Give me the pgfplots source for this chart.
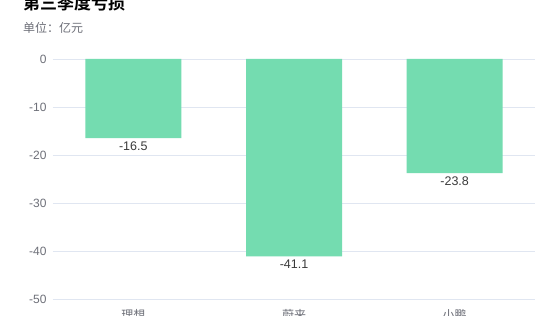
\documentclass[border=0pt]{standalone}
\usepackage{pgfplots}
\pgfplotsset{compat=1.18}
\usepackage{fontspec}
\setmainfont{Liberation Sans}
\newfontfamily\cjk{Noto Sans CJK SC}
\newfontfamily\cjkbold{Noto Sans CJK SC Bold}
\definecolor{barc}{HTML}{74DCB0}
\definecolor{gridc}{HTML}{E0E6F1}
\definecolor{axc}{HTML}{6E7079}
\definecolor{valc}{HTML}{3A3A3A}
\begin{document}
\begin{tikzpicture}[x=1pt,y=1pt]
\clip (0,0) rectangle (560,316);
\fill[white] (0,0) rectangle (560,316);
\node[anchor=west,inner sep=0pt,text=black] at (23,313) {\cjkbold\fontsize{17}{20}\selectfont 第三季度亏损};
\node[anchor=west,inner sep=0pt,text=axc] at (23,288) {\cjk\fontsize{12}{14}\selectfont 单位：亿元};
\begin{axis}[
  at={(53pt,17pt)}, anchor=south west,
  width=482pt, height=240pt, scale only axis,
  xmin=-0.5, xmax=2.5, ymin=-50, ymax=0,
  ybar, bar width=96pt,
  axis line style={draw=none},
  tick style={draw=none},
  ymajorgrids, grid style={gridc, line width=0.8pt},
  ytick={-50,-40,-30,-20,-10,0},
  xtick={0,1,2},
  xticklabels={理想,蔚来,小鹏},
  /pgf/number format/assume math mode=true,
  yticklabel style={font=\fontsize{12}{14}\selectfont, text=axc, xshift=-3pt},
  xticklabel style={font=\cjk\fontsize{12}{14}\selectfont, text=axc, yshift=-3pt},
  point meta=explicit symbolic,
  nodes near coords,
  every node near coord/.append style={font=\fontsize{12.5}{14}\selectfont, text=valc, anchor=north, inner sep=3pt},
]
\addplot[fill=barc, draw=none] coordinates {(0,-16.5) [-16.5] (1,-41.1) [-41.1] (2,-23.8) [-23.8]};
\draw[axc, line width=0.8pt] (rel axis cs:0,0) -- (rel axis cs:1,0);
\end{axis}
\end{tikzpicture}
\end{document}
